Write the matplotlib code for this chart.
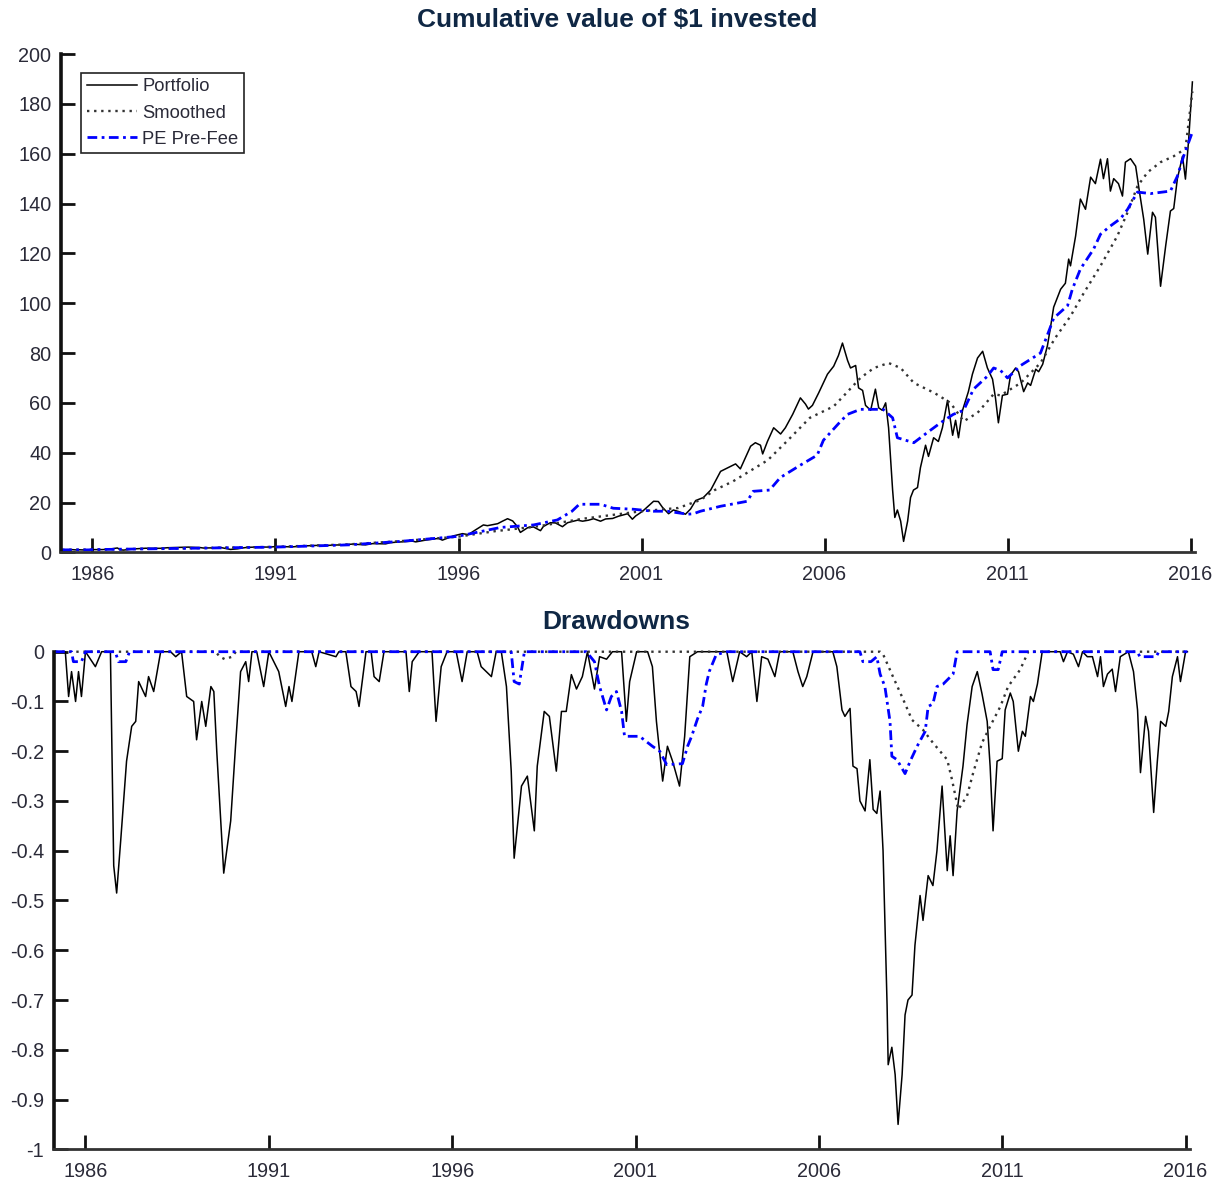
import matplotlib
matplotlib.use("Agg")
import matplotlib.pyplot as plt

# ---------------- data ----------------
port_years = [1985.17, 1985.45, 1985.54, 1985.62, 1985.73, 1985.81, 1985.89, 1986.0, 1986.27, 1986.44,
              1986.68, 1986.77, 1986.85, 1986.96, 1987.12, 1987.26, 1987.45, 1987.64, 1987.86, 1988.05,
              1988.32, 1988.62, 1988.95, 1989.03, 1989.28, 1989.50, 1989.77, 1989.96, 1990.10, 1990.23,
              1990.54, 1990.86, 1991.0, 1991.46, 1991.82, 1992.17, 1992.28, 1992.91, 1993.10, 1993.46,
              1993.65, 1994.01, 1994.14, 1994.74, 1994.83, 1995.10, 1995.45, 1995.56, 1995.86, 1996.11,
              1996.27, 1996.41, 1996.68, 1996.79, 1997.07, 1997.20, 1997.34, 1997.48, 1997.61, 1997.69,
              1997.89, 1998.05, 1998.24, 1998.32, 1998.51, 1998.65, 1998.84, 1998.98, 1999.25, 1999.39,
              1999.55, 1999.69, 1999.88, 2000.02, 2000.21, 2000.37, 2000.62, 2000.75, 2000.84, 2001.03,
              2001.33, 2001.46, 2001.57, 2001.74, 2001.87, 2002.01, 2002.20, 2002.34, 2002.48, 2002.69,
              2002.89, 2003.16, 2003.43, 2003.57, 2003.70, 2003.84, 2003.98, 2004.11, 2004.25, 2004.31,
              2004.44, 2004.61, 2004.80, 2004.93, 2005.13, 2005.34, 2005.48, 2005.56, 2005.67, 2005.84,
              2006.08, 2006.25, 2006.38, 2006.49, 2006.63, 2006.71, 2006.85, 2006.93, 2007.04, 2007.12,
              2007.26, 2007.39, 2007.48, 2007.58, 2007.67, 2007.75, 2007.86, 2007.92, 2007.99, 2008.08,
              2008.16, 2008.27, 2008.35, 2008.43, 2008.54, 2008.62, 2008.76, 2008.84, 2008.98, 2009.11,
              2009.22, 2009.36, 2009.50, 2009.58, 2009.66, 2009.77, 2009.93, 2010.04, 2010.18, 2010.32,
              2010.45, 2010.59, 2010.67, 2010.75, 2010.86, 2011.0, 2011.08, 2011.22, 2011.30, 2011.44,
              2011.55, 2011.63, 2011.77, 2011.85, 2011.96, 2012.09, 2012.17, 2012.26, 2012.45, 2012.58,
              2012.67, 2012.72, 2012.86, 2012.99, 2013.13, 2013.27, 2013.40, 2013.54, 2013.62, 2013.73,
              2013.81, 2013.90, 2014.03, 2014.14, 2014.22, 2014.36, 2014.50, 2014.58, 2014.72, 2014.83,
              2014.96, 2015.04, 2015.18, 2015.32, 2015.45, 2015.54, 2015.64, 2015.78, 2015.86, 2015.95,
              2016.05]
port_value = [1.00, 1.08, 0.98, 1.04, 0.97, 1.04, 0.98, 1.10, 1.10, 1.25,
              1.75, 1.00, 0.90, 1.08, 1.36, 1.49, 1.65, 1.60, 1.62, 1.85,
              1.95, 2.10, 1.90, 1.73, 1.80, 1.95, 1.17, 1.40, 1.75, 2.00,
              2.15, 2.10, 2.35, 2.20, 2.60, 2.80, 2.70, 3.10, 3.30, 3.00,
              3.50, 3.40, 3.90, 4.50, 4.20, 4.90, 5.60, 4.90, 6.60, 7.50,
              7.10, 8.50, 11.0, 10.7, 11.5, 12.5, 13.5, 12.6, 10.3, 8.0,
              9.9, 10.2, 8.7, 10.4, 11.9, 11.8, 10.3, 11.9, 12.9, 12.5,
              12.9, 13.5, 12.5, 13.4, 13.6, 14.5, 15.5, 13.3, 14.6, 16.5,
              20.5, 20.4, 18.1, 15.5, 17.0, 16.4, 15.3, 17.4, 20.8, 22.0,
              25.0, 32.5, 34.5, 35.5, 33.5, 38.0, 42.6, 44.0, 43.0, 39.5,
              44.5, 50.0, 47.5, 50.0, 55.4, 62.0, 59.5, 57.5, 59.0, 64.0,
              71.5, 74.7, 79.0, 84.0, 77.0, 74.0, 75.0, 66.0, 65.0, 59.0,
              57.0, 65.5, 58.0, 57.0, 60.0, 50.0, 25.0, 14.0, 17.0, 12.5,
              4.4, 12.5, 22.0, 25.0, 26.0, 34.0, 43.0, 38.5, 46.0, 44.5,
              50.0, 61.0, 47.0, 53.0, 46.0, 57.0, 64.5, 71.5, 78.0, 80.7,
              74.0, 69.5, 62.0, 52.0, 63.0, 63.5, 71.0, 74.0, 72.5, 64.5,
              68.0, 67.0, 73.5, 72.5, 75.5, 83.0, 90.0, 98.4, 105.6, 108.0,
              117.7, 115.0, 127.0, 141.8, 137.7, 150.6, 148.0, 157.8, 150.0, 158.0,
              145.0, 150.0, 148.0, 143.0, 156.6, 158.0, 155.0, 147.0, 133.7, 119.7,
              136.5, 134.5, 106.8, 123.0, 137.0, 138.0, 150.0, 159.0, 149.8, 166.0,
              188.8]

smooth_years = [1985.17, 1988.0, 1991.0, 1993.0, 1994.42, 1996.0, 1997.0, 1998.2, 1999.4, 2000.2,
                2001.0, 2002.0, 2002.61, 2003.0, 2003.5, 2004.45, 2005.0, 2005.6, 2006.25, 2006.6,
                2006.98, 2007.35, 2007.75, 2008.08, 2008.44, 2009.0, 2009.44, 2009.8, 2010.18, 2010.62,
                2010.81, 2011.36, 2011.9, 2012.3, 2012.72, 2013.08, 2013.54, 2014.0, 2014.28, 2014.55,
                2014.83, 2015.18, 2015.54, 2015.86, 2016.05]
smooth_value = [1.0, 1.5, 2.2, 3.2, 4.5, 6.3, 8.5, 10.5, 13.5, 15.0,
                16.5, 17.8, 21.0, 25.0, 28.5, 37.0, 45.0, 54.0, 58.6, 64.0,
                70.0, 74.0, 76.0, 74.0, 68.0, 64.0, 60.0, 52.6, 56.0, 63.5,
                63.0, 68.0, 76.0, 86.0, 94.8, 104.0, 115.0, 127.0, 136.5, 147.0,
                152.6, 156.6, 159.0, 162.0, 185.0]

pe_years = [1985.17, 1985.67, 1985.89, 1986.0, 1988.0, 1991.0, 1993.0, 1994.42, 1995.97, 1997.15,
            1998.05, 1998.7, 1999.1, 1999.3, 1999.88, 2000.23, 2000.78, 2001.32, 2001.71, 2002.26,
            2002.42, 2002.61, 2003.16, 2003.89, 2004.05, 2004.5, 2004.79, 2005.34, 2005.8, 2005.97,
            2006.44, 2006.63, 2006.98, 2007.6, 2007.86, 2007.99, 2008.44, 2008.8, 2009.17, 2009.52,
            2009.8, 2010.07, 2010.45, 2010.62, 2010.81, 2011.0, 2011.36, 2011.9, 2012.16, 2012.26,
            2012.64, 2012.77, 2012.99, 2013.35, 2013.54, 2013.81, 2014.09, 2014.28, 2014.55, 2014.91,
            2015.45, 2015.64, 2015.81, 2016.05]
pe_value = [1.0, 0.98, 0.98, 1.1, 1.5, 2.1, 3.0, 4.4, 6.4, 10.0,
            11.0, 13.0, 16.5, 19.3, 19.3, 17.7, 17.3, 16.5, 16.5, 15.3,
            15.5, 16.5, 18.5, 20.5, 24.5, 25.0, 30.0, 35.0, 39.0, 45.0,
            52.6, 55.4, 57.4, 57.4, 54.0, 46.0, 44.0, 48.0, 52.0, 55.4,
            57.0, 65.5, 70.7, 74.0, 73.0, 70.0, 75.0, 80.0, 90.0, 94.0,
            99.0, 105.6, 113.7, 121.7, 127.7, 131.0, 134.0, 137.7, 144.6, 144.0,
            145.0, 151.0, 159.0, 168.7]

dd_port_years = [1985.17, 1985.45, 1985.54, 1985.62, 1985.73, 1985.81, 1985.89, 1986.0, 1986.27, 1986.44,
                 1986.68, 1986.77, 1986.85, 1986.96, 1987.12, 1987.26, 1987.37, 1987.45, 1987.64, 1987.72,
                 1987.86, 1988.05, 1988.32, 1988.46, 1988.62, 1988.76, 1988.95, 1989.03, 1989.17, 1989.28,
                 1989.42, 1989.50, 1989.58, 1989.77, 1989.96, 1990.10, 1990.23, 1990.37, 1990.45, 1990.54,
                 1990.67, 1990.86, 1991.0, 1991.27, 1991.46, 1991.55, 1991.63, 1991.82, 1992.17, 1992.28,
                 1992.37, 1992.83, 1992.91, 1993.10, 1993.24, 1993.38, 1993.46, 1993.65, 1993.79, 1993.87,
                 1994.01, 1994.14, 1994.74, 1994.83, 1994.91, 1995.10, 1995.45, 1995.56, 1995.70, 1995.86,
                 1996.11, 1996.27, 1996.41, 1996.68, 1996.79, 1997.07, 1997.20, 1997.34, 1997.48, 1997.61,
                 1997.69, 1997.89, 1998.05, 1998.24, 1998.32, 1998.51, 1998.65, 1998.84, 1998.98, 1999.11,
                 1999.25, 1999.39, 1999.55, 1999.69, 1999.88, 2000.02, 2000.21, 2000.37, 2000.62, 2000.75,
                 2000.84, 2001.03, 2001.33, 2001.46, 2001.57, 2001.74, 2001.87, 2002.01, 2002.20, 2002.34,
                 2002.48, 2002.69, 2003.49, 2003.65, 2003.84, 2004.03, 2004.17, 2004.31, 2004.44, 2004.61,
                 2004.80, 2004.93, 2005.29, 2005.43, 2005.56, 2005.67, 2005.84, 2006.38, 2006.49, 2006.63,
                 2006.71, 2006.85, 2006.93, 2007.04, 2007.12, 2007.26, 2007.39, 2007.48, 2007.58, 2007.67,
                 2007.75, 2007.86, 2007.89, 2007.99, 2008.08, 2008.16, 2008.27, 2008.35, 2008.43, 2008.54,
                 2008.62, 2008.76, 2008.84, 2008.98, 2009.11, 2009.22, 2009.36, 2009.50, 2009.58, 2009.66,
                 2009.77, 2009.93, 2010.04, 2010.18, 2010.32, 2010.45, 2010.59, 2010.67, 2010.75, 2010.86,
                 2011.0, 2011.08, 2011.22, 2011.30, 2011.44, 2011.55, 2011.63, 2011.77, 2011.85, 2011.96,
                 2012.09, 2012.58, 2012.67, 2012.78, 2012.94, 2013.08, 2013.19, 2013.32, 2013.46, 2013.60,
                 2013.68, 2013.76, 2013.87, 2014.0, 2014.09, 2014.22, 2014.44, 2014.58, 2014.69, 2014.77,
                 2014.91, 2014.99, 2015.13, 2015.23, 2015.32, 2015.46, 2015.54, 2015.64, 2015.78, 2015.86,
                 2016.0, 2016.05]
dd_port = [0.0, 0.0, -0.09, -0.04, -0.10, -0.04, -0.09, 0.0, -0.03, 0.0,
           0.0, -0.43, -0.485, -0.38, -0.22, -0.15, -0.14, -0.06, -0.09, -0.05,
           -0.08, 0.0, 0.0, -0.01, 0.0, -0.09, -0.10, -0.177, -0.10, -0.15,
           -0.07, -0.08, -0.20, -0.445, -0.34, -0.18, -0.04, -0.02, -0.06, 0.0,
           0.0, -0.07, 0.0, -0.04, -0.11, -0.07, -0.10, 0.0, 0.0, -0.03,
           0.0, -0.01, 0.0, 0.0, -0.07, -0.08, -0.11, 0.0, 0.0, -0.05,
           -0.06, 0.0, 0.0, -0.08, -0.02, 0.0, 0.0, -0.14, -0.03, 0.0,
           0.0, -0.06, 0.0, 0.0, -0.03, -0.05, 0.0, 0.0, -0.07, -0.24,
           -0.415, -0.27, -0.25, -0.36, -0.23, -0.12, -0.13, -0.24, -0.12, -0.12,
           -0.046, -0.075, -0.05, 0.0, -0.075, -0.01, -0.015, 0.0, 0.0, -0.14,
           -0.06, 0.0, 0.0, -0.03, -0.14, -0.26, -0.19, -0.22, -0.27, -0.17,
           -0.01, 0.0, 0.0, -0.06, 0.0, -0.01, 0.0, -0.10, -0.01, -0.015,
           -0.05, 0.0, 0.0, -0.04, -0.07, -0.05, 0.0, 0.0, -0.03, -0.117,
           -0.13, -0.114, -0.23, -0.235, -0.30, -0.32, -0.217, -0.317, -0.325, -0.28,
           -0.40, -0.71, -0.83, -0.795, -0.85, -0.95, -0.85, -0.73, -0.70, -0.69,
           -0.59, -0.49, -0.54, -0.45, -0.47, -0.40, -0.27, -0.44, -0.37, -0.45,
           -0.32, -0.23, -0.147, -0.07, -0.04, -0.085, -0.14, -0.23, -0.36, -0.22,
           -0.215, -0.117, -0.083, -0.10, -0.20, -0.16, -0.17, -0.09, -0.10, -0.065,
           0.0, 0.0, -0.02, 0.0, -0.005, -0.03, 0.0, -0.01, -0.01, -0.05,
           -0.01, -0.07, -0.045, -0.035, -0.08, -0.01, 0.0, -0.04, -0.117, -0.243,
           -0.13, -0.16, -0.323, -0.22, -0.14, -0.15, -0.12, -0.05, -0.01, -0.06,
           0.0, 0.0]

dd_smooth_years = [1985.17, 1989.55, 1989.66, 1989.80, 1990.0, 1990.10, 2007.67, 2007.75, 2008.02, 2008.30,
                   2008.54, 2008.84, 2009.11, 2009.50, 2009.63, 2009.80, 2010.04, 2010.21, 2010.45, 2010.67,
                   2010.95, 2011.16, 2011.49, 2011.71, 2016.05]
dd_smooth = [0.0, 0.0, -0.01, -0.015, -0.01, 0.0, 0.0, -0.005, -0.05, -0.096,
             -0.137, -0.157, -0.183, -0.217, -0.257, -0.317, -0.29, -0.243, -0.183, -0.15,
             -0.11, -0.07, -0.036, 0.0, 0.0]

dd_pe_years = [1985.17, 1985.62, 1985.67, 1985.89, 1986.0, 1986.81, 1986.90, 1987.10, 1987.20, 1997.61,
               1997.69, 1997.83, 1997.97, 1999.66, 1999.88, 2000.02, 2000.21, 2000.34, 2000.48, 2000.62,
               2000.70, 2001.11, 2001.46, 2001.66, 2001.85, 2002.28, 2002.42, 2002.53, 2002.69, 2002.83,
               2002.93, 2003.01, 2003.20, 2003.49, 2007.12, 2007.20, 2007.42, 2007.58, 2007.67, 2007.80,
               2007.94, 2007.99, 2008.13, 2008.35, 2008.49, 2008.68, 2008.90, 2008.98, 2009.11, 2009.22,
               2009.39, 2009.66, 2009.77, 2010.67, 2010.75, 2010.89, 2011.0, 2014.69, 2014.75, 2015.20,
               2015.27, 2016.05]
dd_pe = [0.0, 0.0, -0.02, -0.02, 0.0, 0.0, -0.02, -0.02, 0.0, 0.0,
         -0.06, -0.065, 0.0, 0.0, -0.02, -0.07, -0.117, -0.09, -0.08, -0.12,
         -0.17, -0.17, -0.19, -0.20, -0.227, -0.225, -0.19, -0.17, -0.135, -0.11,
         -0.065, -0.04, -0.006, 0.0, 0.0, -0.02, -0.02, -0.01, -0.045, -0.07,
         -0.14, -0.21, -0.217, -0.245, -0.22, -0.19, -0.16, -0.11, -0.105, -0.07,
         -0.065, -0.045, 0.0, 0.0, -0.036, -0.036, 0.0, 0.0, -0.01, -0.01,
         0.0, 0.0]

year_ticks = [1986, 1991, 1996, 2001, 2006, 2011, 2016]
value_ticks = [0, 20, 40, 60, 80, 100, 120, 140, 160, 180, 200]
dd_ticks = [0, -0.1, -0.2, -0.3, -0.4, -0.5, -0.6, -0.7, -0.8, -0.9, -1]
dd_tick_labels = ["0", "-0.1", "-0.2", "-0.3", "-0.4", "-0.5", "-0.6", "-0.7", "-0.8", "-0.9", "-1"]
series_labels = ["Portfolio", "Smoothed", "PE Pre-Fee"]
titles = ["Cumulative value of $1 invested", "Drawdowns"]

# ---------------- styling ----------------
plt.rcParams["font.family"] = ["Liberation Sans", "DejaVu Sans"]
TEXT = "#2a2a38"
TITLE = "#0f2744"
BLUE = "#0000ff"
DOT = (0, (1, 2))
DASHDOT = (0, (3.5, 1.6, 1, 1.6))

fig = plt.figure(figsize=(12.15, 11.83), dpi=100)
ax1 = fig.add_axes([0.0502, 0.5331, 0.9333, 0.4212])
ax2 = fig.add_axes([0.0444, 0.0285, 0.9350, 0.4206])

XLIM = (1985.14, 2016.12)


def style_axes(ax):
    for side in ("top", "right"):
        ax.spines[side].set_visible(False)
    ax.spines["left"].set_linewidth(2.6)
    ax.spines["left"].set_color("#111111")
    ax.spines["bottom"].set_linewidth(2.0)
    ax.spines["bottom"].set_color("#333333")
    ax.tick_params(axis="both", direction="in", length=10, width=2.0,
                   colors="#111111", labelcolor=TEXT, labelsize=14.3)
    ax.tick_params(axis="x", pad=9)
    ax.tick_params(axis="y", pad=7)
    ax.set_xlim(*XLIM)
    ax.set_xticks(year_ticks)
    ax.set_xticklabels([str(y) for y in year_ticks])


# Cumulative value panel
ax1.plot(port_years, port_value, color="black", lw=1.1, label=series_labels[0])
ax1.plot(smooth_years, smooth_value, color="#333333", lw=1.7, linestyle=DOT, label=series_labels[1])
ax1.plot(pe_years, pe_value, color=BLUE, lw=2.0, linestyle=DASHDOT, label=series_labels[2])
ax1.set_ylim(0, 200)
ax1.set_yticks(value_ticks)
style_axes(ax1)
leg = ax1.legend(loc="upper left", bbox_to_anchor=(0.0177, 0.962), borderaxespad=0,
                 fontsize=13.2, handlelength=2.75, labelspacing=0.5, handletextpad=0.3,
                 borderpad=0.3, fancybox=False, framealpha=1, edgecolor="#222222")
leg.get_frame().set_linewidth(1.2)
for t in leg.get_texts():
    t.set_color(TEXT)

# Drawdown panel
ax2.plot(dd_port_years, dd_port, color="black", lw=1.1, clip_on=False)
ax2.plot(dd_smooth_years, dd_smooth, color="#333333", lw=1.7, linestyle=DOT, clip_on=False)
ax2.plot(dd_pe_years, dd_pe, color=BLUE, lw=2.0, linestyle=DASHDOT, clip_on=False)
ax2.set_ylim(-1, 0)
ax2.set_yticks(dd_ticks)
ax2.set_yticklabels(dd_tick_labels)
style_axes(ax2)

fig.text(0.508, 1 - 20 / 1183, titles[0], ha="center", va="center",
         fontsize=19, fontweight="bold", color=TITLE)
fig.text(0.507, 1 - 622 / 1183, titles[1], ha="center", va="center",
         fontsize=19, fontweight="bold", color=TITLE)

fig.savefig("out.png", dpi=100, facecolor="white")
